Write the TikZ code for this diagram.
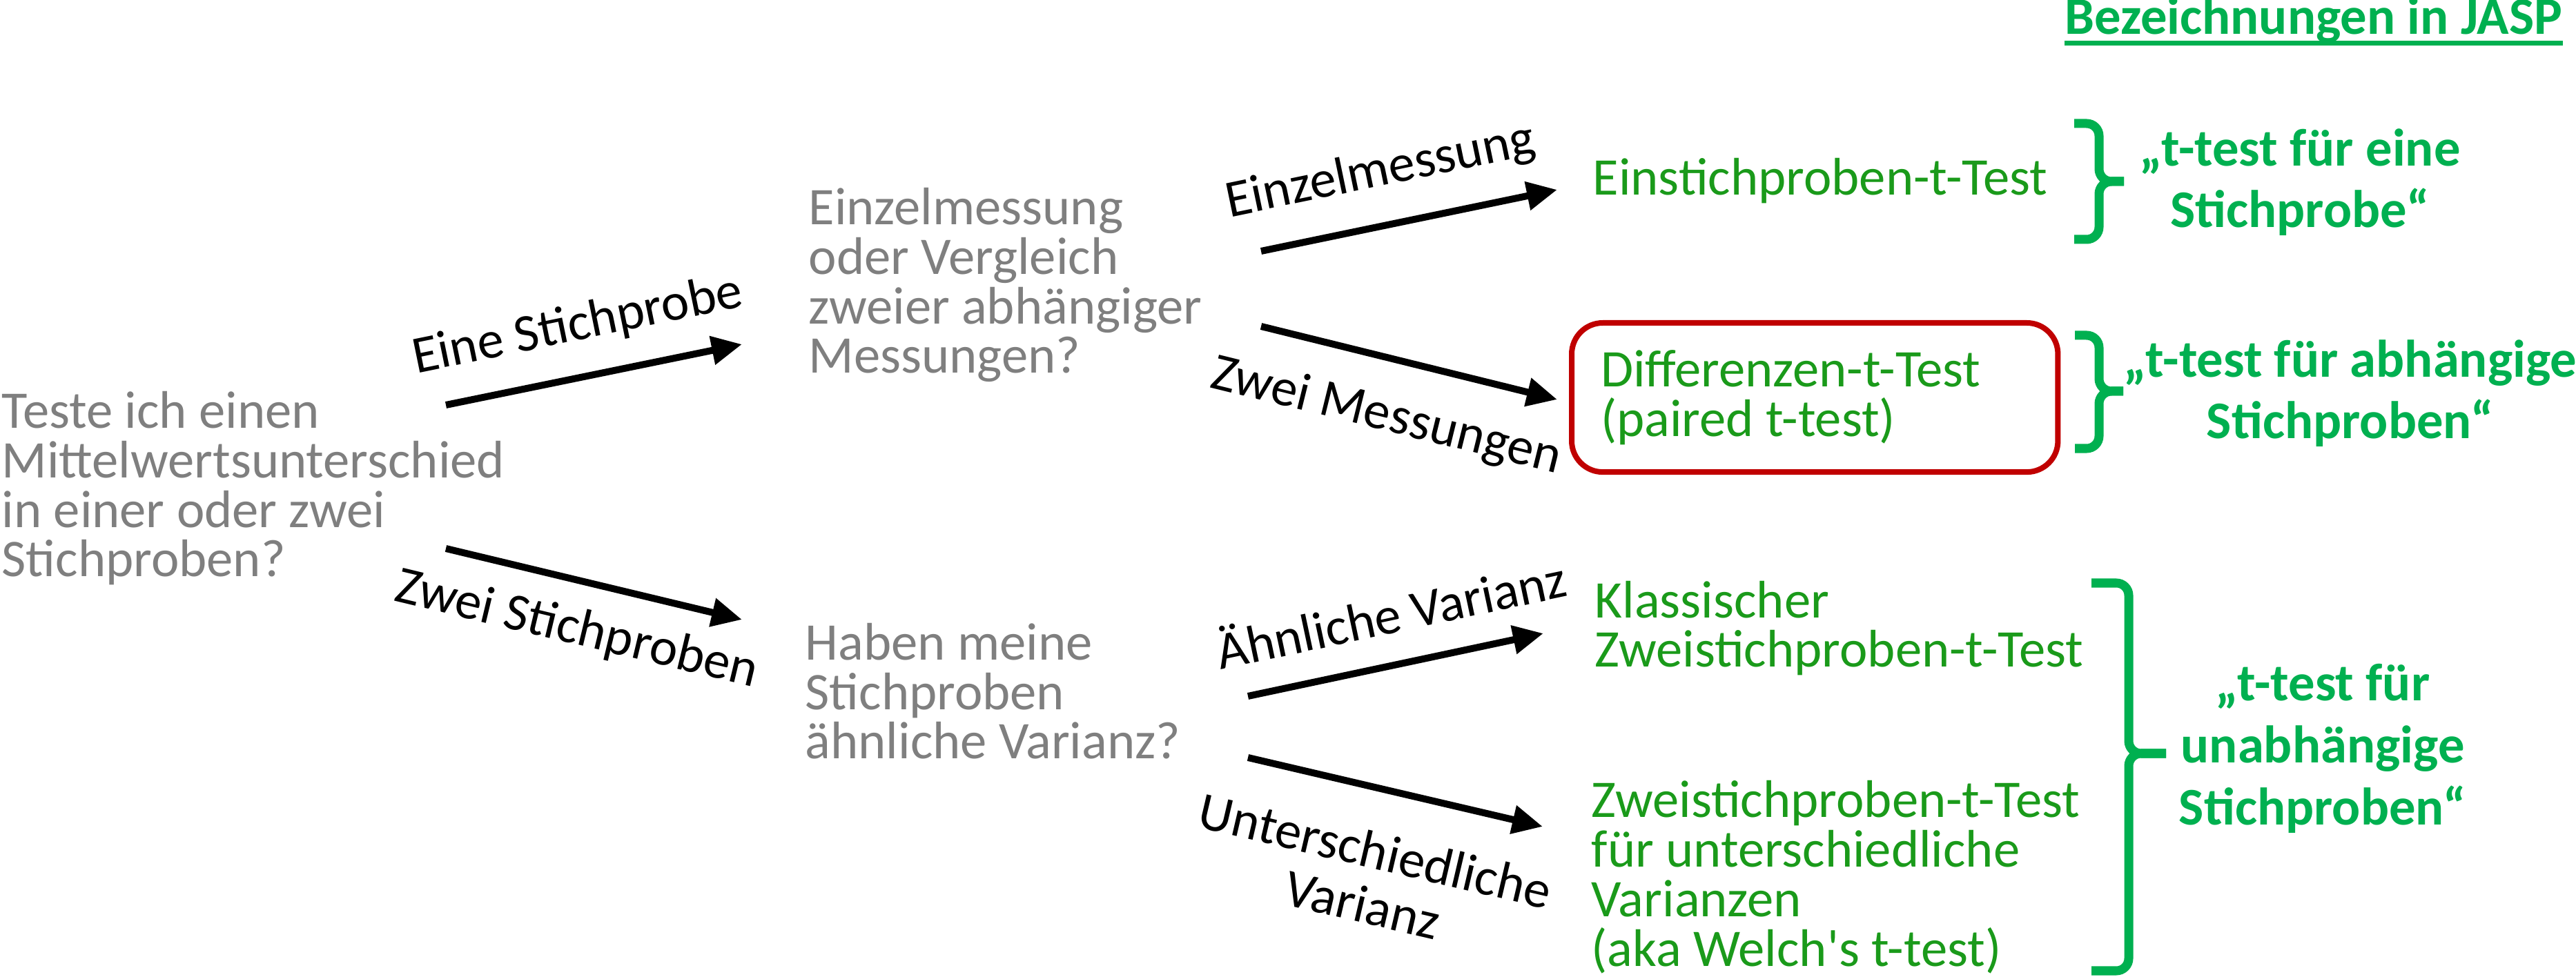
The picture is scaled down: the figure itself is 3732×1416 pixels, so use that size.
\documentclass[tikz,border=0pt]{standalone}
\usepackage{fontspec}
\setmainfont{Carlito}
\usepackage{tikz}
\usetikzlibrary{positioning,arrows.meta,calc}
\definecolor{qgray}{HTML}{7F7F7F}
\definecolor{tgreen}{HTML}{1A9A1A}
\definecolor{jgreen}{HTML}{00B050}
\definecolor{boxred}{HTML}{C00000}
\lineskiplimit=-100pt
\tikzset{
question/.style={
anchor=base west,
inner sep=0pt,
align=left,
text=qgray,
font=\fontsize{21.8pt}{20.4pt}\selectfont
},
result/.style={
anchor=base west,
inner sep=0pt,
align=left,
text=tgreen,
font=\fontsize{21.8pt}{20.4pt}\selectfont
},
picked/.style={
draw=boxred,
line width=0.08cm,
rounded corners=0.45cm,
anchor=north west,
text width=6.2cm,
align=flush left,
inner xsep=0.42cm,
minimum height=2.16cm
},
jasp/.style={
anchor=base,
inner sep=0pt,
align=center,
text=jgreen,
font=\fontsize{21.8pt}{25.5pt}\selectfont\bfseries
},
lab/.style={
inner sep=0pt,
align=center,
font=\fontsize{21.8pt}{22.8pt}\selectfont
},
arrow/.style={
-{Triangle[length=0.44cm,width=0.40cm]},
line width=0.1cm
},
jbrace/.style={
jgreen,
line width=0.13cm,
rounded corners=0.18cm
}
}
% brace: arm x, top, tip y, bottom, arm width
\newcommand{\jbrace}[5]{%
\draw[jbrace] (#1,#2) -- (#1+#5,#2) -- (#1+#5,#3) -- (#1+2*#5,#3);
\draw[jbrace] (#1,#4) -- (#1+#5,#4) -- (#1+#5,#3) -- (#1+2*#5,#3);}

\begin{document}
\begin{tikzpicture}[x=0.01cm,y=-0.01cm]
\useasboundingbox (0,0) rectangle (3732,1416);

% questions (placed at baseline of last line)
\node[question](q0) at (2,836) {Teste ich einen\\Mittelwertsunterschied\\in einer oder zwei\\Stichproben?};
\node[question](q1) at (1171,541) {Einzelmessung\\oder Vergleich\\zweier abhängiger\\Messungen?};
\node[question](q2) at (1166,1100) {Haben meine\\Stichproben\\ähnliche Varianz?};

% tests
\node[result](r1) at (2307,283) {Einstichproben-t-Test};
\node[result,picked](r2) at (2273,464) {Differenzen-t-Test\\(paired t-test)};
\node[result](r3) at (2310,967) {Klassischer\\Zweistichproben-t-Test};
\node[result](r4) at (2305,1400) {Zweistichproben-t-Test\\für unterschiedliche\\Varianzen\\(aka Welch\textquotesingle s t-test)};

% JASP names
\node[jasp,anchor=base east](j0) at (3713,50) {Bezeichnungen in JASP};
\draw[jgreen,line width=0.07cm] ($(j0.base west)+(0,13)$) -- ($(j0.base east)+(0,13)$);
\node[jasp](j1) at (3332,330) {„t-test für eine\\Stichprobe“};
\node[jasp](j2) at (3405,636) {„t-test für abhängige\\Stichproben“};
\node[jasp](j3) at (3365,1195) {„t-test für\\unabhängige\\Stichproben“};

\jbrace{3005}{179}{263}{347}{36}
\jbrace{3006}{486}{567}{650}{35}
\jbrace{3030}{845}{1092}{1407}{54}

% arrow ends
\coordinate (a1s) at (646,587);  \coordinate (a1e) at (1075,499);
\coordinate (a2s) at (646,795);  \coordinate (a2e) at (1075,898);
\coordinate (a3s) at (1827,364); \coordinate (a3e) at (2256,275);
\coordinate (a4s) at (1827,473); \coordinate (a4e) at (2256,579);
\coordinate (a5s) at (1808,1009);\coordinate (a5e) at (2236,918);
\coordinate (a6s) at (1808,1098);\coordinate (a6e) at (2235,1198);

\foreach \n/\side/\dist/\p/\txt in {1/above/0.36/0.48/Eine Stichprobe,
2/below/0.33/0.48/Zwei Stichproben,3/above/0.39/0.44/Einzelmessung,
4/below/0.46/0.47/Zwei Messungen,5/above/0.40/0.52/Ähnliche Varianz,
6/below/0.57/0.48/{Unterschiedliche\\Varianz}}
\draw[arrow](a\n s) -- node[lab,sloped,\side=\dist cm,pos=\p]{\txt} (a\n e);
\end{tikzpicture}
\end{document}
